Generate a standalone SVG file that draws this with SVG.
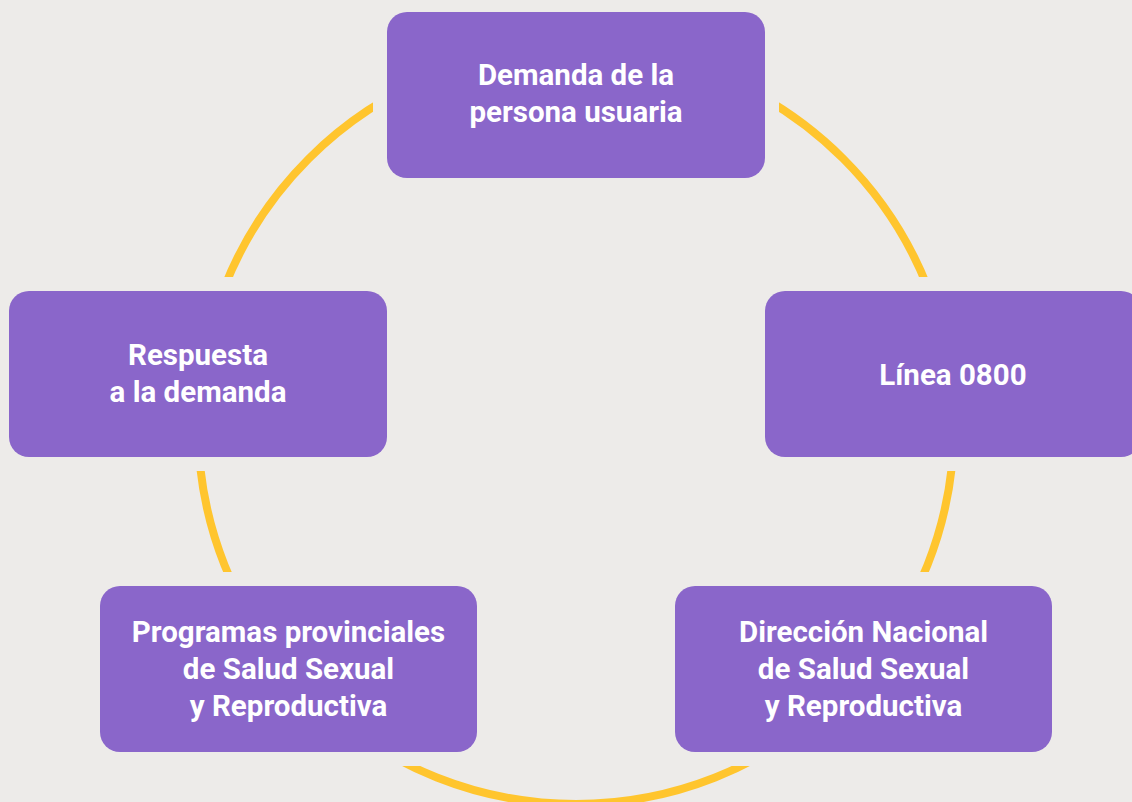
<svg xmlns="http://www.w3.org/2000/svg" width="1132" height="802" viewBox="0 0 1132 802">
  <style>
    .box { fill: #8A66CA; }
    .lbl { font-family: Roboto, "Liberation Sans", sans-serif; font-weight: 700; font-size: 29.5px; fill: #FFFFFF; text-anchor: middle; }
    .ring { fill: none; stroke: #FFC52E; stroke-width: 8; }
  </style>
  <defs>
    <mask id="gaps" maskUnits="userSpaceOnUse" x="0" y="0" width="1132" height="802">
      <rect x="0" y="0" width="1132" height="802" fill="#fff"/>
      <rect x="373" y="-2" width="406" height="194" fill="#000"/>
      <rect x="-5" y="277" width="406" height="194" fill="#000"/>
      <rect x="751" y="277" width="406" height="194" fill="#000"/>
      <rect x="86" y="572" width="405" height="194" fill="#000"/>
      <rect x="661" y="572" width="405" height="194" fill="#000"/>
    </mask>
  </defs>
  <rect x="0" y="0" width="1132" height="802" fill="#EDEBE9"/>
  <g id="connectors">
    <circle class="ring" cx="576" cy="426" r="378" mask="url(#gaps)"/>
  </g>
  <g id="node-demanda">
    <rect class="box" x="387" y="12" width="378" height="166" rx="20"/>
    <text class="lbl" x="576" y="85">Demanda de la</text>
    <text class="lbl" x="576" y="122">persona usuaria</text>
  </g>
  <g id="node-linea">
    <rect class="box" x="765" y="291" width="376" height="166" rx="20"/>
    <text class="lbl" x="953" y="385">Línea 0800</text>
  </g>
  <g id="node-direccion">
    <rect class="box" x="675" y="586" width="377" height="166" rx="20"/>
    <text class="lbl" x="863.5" y="642">Dirección Nacional</text>
    <text class="lbl" x="863.5" y="679">de Salud Sexual</text>
    <text class="lbl" x="863.5" y="716">y Reproductiva</text>
  </g>
  <g id="node-programas">
    <rect class="box" x="100" y="586" width="377" height="166" rx="20"/>
    <text class="lbl" x="288.5" y="642">Programas provinciales</text>
    <text class="lbl" x="288.5" y="679">de Salud Sexual</text>
    <text class="lbl" x="288.5" y="716">y Reproductiva</text>
  </g>
  <g id="node-respuesta">
    <rect class="box" x="9" y="291" width="378" height="166" rx="20"/>
    <text class="lbl" x="198" y="365">Respuesta</text>
    <text class="lbl" x="198" y="402">a la demanda</text>
  </g>
</svg>
